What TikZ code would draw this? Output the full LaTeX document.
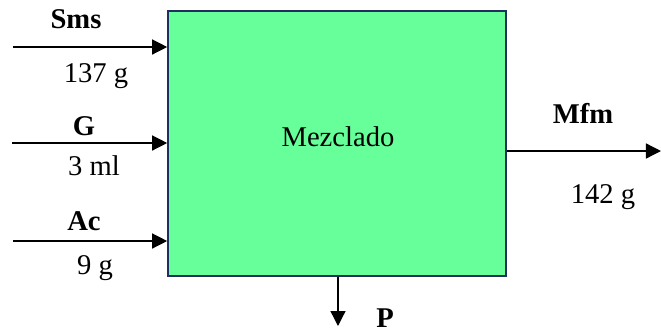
\documentclass[tikz,border=0pt]{standalone}
\usepackage{fontspec}
\setmainfont{Liberation Serif}
\usetikzlibrary{arrows.meta}
\definecolor{boxfill}{HTML}{66FF99}
\definecolor{boxline}{HTML}{1F3060}
\begin{document}
\begin{tikzpicture}[x=0.5pt,y=-0.5pt,
  lbl/.style={anchor=base,inner sep=0pt,font=\fontsize{14.3}{17}\selectfont},
  blbl/.style={lbl,font=\fontsize{14.3}{17}\selectfont\bfseries},
  arr/.style={line width=0.65pt,-{Triangle[length=7.5pt,width=7.5pt]}}]
\useasboundingbox (0,0) rectangle (661,333);
\node[draw=boxline,fill=boxfill,line width=0.8pt,minimum width=169pt,minimum height=132.5pt,inner sep=0pt] (box) at (337,143.5) {};
\node[lbl] (mez) at (338,146) {Mezclado};
% inputs
\coordinate (s1) at (13,47);
\coordinate (s2) at (12,143);
\coordinate (s3) at (13,241);
\draw[arr] (s1) -- (s1 -| box.west);
\draw[arr] (s2) -- (s2 -| box.west);
\draw[arr] (s3) -- (s3 -| box.west);
\node[blbl] (sms) at (76,28) {Sms};
\node[lbl] (m1) at (96,82) {137 g};
\node[blbl] (g) at (84,135) {G};
\node[lbl] (m2) at (94,175) {3 ml};
\node[blbl] (ac) at (84,230) {Ac};
\node[lbl] (m3) at (95,274) {9 g};
% output
\coordinate (o1) at (661,151);
\draw[arr] (o1 -| box.east) -- (o1);
\node[blbl] (mfm) at (583,123) {Mfm};
\node[lbl] (m4) at (603,203) {142 g};
% P
\coordinate (p1) at (338,326);
\draw[arr] (p1 |- box.south) -- (p1);
\node[blbl] (p) at (385,327) {P};
\end{tikzpicture}
\end{document}
